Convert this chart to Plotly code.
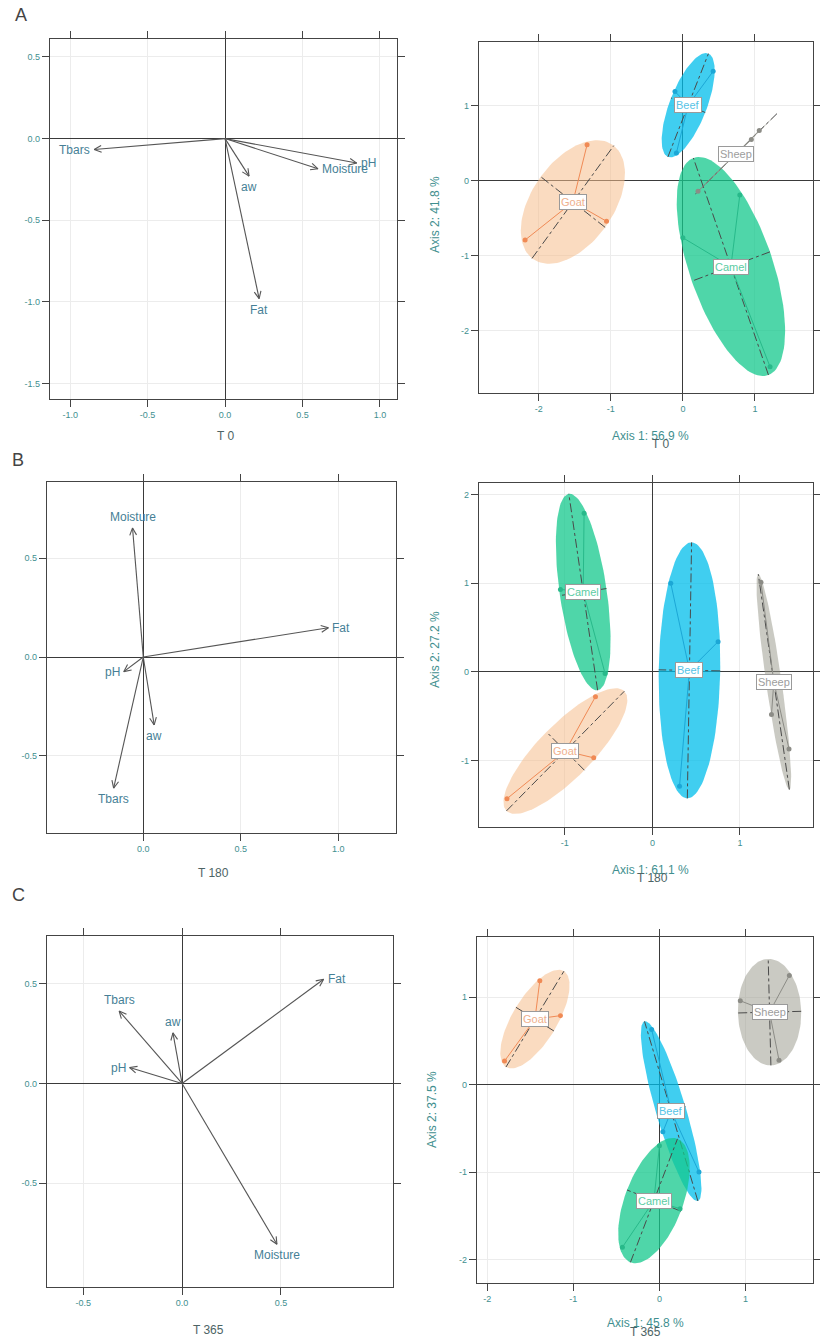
import numpy as np
import plotly.graph_objects as go

W, H = 820, 1341

# ---------------- data ----------------
variables = ["Fat", "Moisture", "pH", "aw", "Tbars"]
# variable loadings (correlation arrows) per storage time
t0_load1 = [0.22, 0.60, 0.85, 0.155, -0.845]
t0_load2 = [-0.98, -0.185, -0.15, -0.23, -0.067]
t180_load1 = [0.95, -0.055, -0.10, 0.056, -0.152]
t180_load2 = [0.148, 0.652, -0.074, -0.343, -0.662]
t365_load1 = [0.716, 0.48, -0.265, -0.046, -0.318]
t365_load2 = [0.522, -0.806, 0.080, 0.254, 0.363]

species = ["Beef", "Camel", "Goat", "Sheep"]
sample_species = ["Beef"] * 3 + ["Camel"] * 3 + ["Goat"] * 3 + ["Sheep"] * 3
# sample scores on PCA axes
t0_axis1 = [0.42, -0.11, -0.09, 0.79, 0.00, 1.21, -1.33, -1.06, -2.19, 0.21, 1.06, 0.95]
t0_axis2 = [1.46, 1.19, 0.37, -0.19, -0.76, -2.48, 0.48, -0.54, -0.79, -0.14, 0.67, 0.55]
t180_axis1 = [0.21, 0.75, 0.31, -0.78, -0.54, -1.05, -0.65, -0.67, -1.66, 1.24, 1.36, 1.56]
t180_axis2 = [1.00, 0.34, -1.29, 1.79, -0.02, 0.93, -0.28, -0.97, -1.43, 1.01, -0.48, -0.87]
t365_axis1 = [-0.09, 0.04, 0.46, -0.43, 0.00, 0.24, -1.39, -1.15, -1.80, 1.51, 0.94, 1.39]
t365_axis2 = [0.63, -0.54, -1.00, -1.86, -0.70, -1.42, 1.19, 0.79, 0.27, 1.25, 0.96, 0.28]
# explained variance (%)
t0_pct = [56.9, 41.8]
t180_pct = [61.1, 27.2]
t365_pct = [45.8, 37.5]
times = ["T 0", "T 180", "T 365"]

# ---------------- styles ----------------
fill_col = {"Beef": "rgba(0,190,235,0.75)", "Camel": "rgba(20,200,140,0.75)",
            "Goat": "rgba(245,190,140,0.55)", "Sheep": "rgba(150,150,135,0.5)"}
line_col = {"Beef": "#1ca7d6", "Camel": "#28b98a", "Goat": "#f08a55", "Sheep": "#8c8c86"}
text_col = {"Beef": "#56c3e6", "Camel": "#5ccca3", "Goat": "#efb08c", "Sheep": "#9d9d9d"}
TEAL = "#3f8f8f"
FONT = "Liberation Sans, Arial, sans-serif"

# panel boxes in pixels (x0, x1, y0, y1) and data ranges
panels = [
    dict(box=(50, 397, 39, 399), xr=[-1.13, 1.11], yr=[-1.595, 0.61], xt=[-1, -0.5, 0, 0.5, 1], yt=[-1.5, -1, -0.5, 0, 0.5], fmt="%.1f"),
    dict(box=(479, 813, 42, 393), xr=[-2.83, 1.806], yr=[-2.83, 1.85], xt=[-2, -1, 0, 1], yt=[-2, -1, 0, 1], fmt="%d"),
    dict(box=(47, 396, 482, 833), xr=[-0.494, 1.297], yr=[-0.889, 0.884], xt=[0, 0.5, 1], yt=[-0.5, 0, 0.5], fmt="%.1f"),
    dict(box=(479, 813, 483, 827), xr=[-1.98, 1.834], yr=[-1.75, 2.13], xt=[-1, 0, 1], yt=[-1, 0, 1, 2], fmt="%d"),
    dict(box=(47, 393, 936, 1287), xr=[-0.683, 1.067], yr=[-1.02, 0.739], xt=[-0.5, 0, 0.5], yt=[-0.5, 0, 0.5], fmt="%.1f"),
    dict(box=(477, 813, 937, 1283), xr=[-2.12, 1.785], yr=[-2.27, 1.69], xt=[-2, -1, 0, 1], yt=[-2, -1, 0, 1], fmt="%d"),
]

loadings = [(t0_load1, t0_load2), (t180_load1, t180_load2), (t365_load1, t365_load2)]
scores = [(t0_axis1, t0_axis2), (t180_axis1, t180_axis2), (t365_axis1, t365_axis2)]
pcts = [t0_pct, t180_pct, t365_pct]

fig = go.Figure()
layout = dict(width=W, height=H, margin=dict(l=0, r=0, t=0, b=0),
              paper_bgcolor="white", plot_bgcolor="white", showlegend=False)
annotations = []

for i, p in enumerate(panels):
    k = i + 1
    x0, x1, y0, y1 = p["box"]
    ax = dict(showline=True, linecolor="#444", linewidth=1.2, mirror="ticks",
              ticks="outside", ticklen=7, tickcolor="#444", tickwidth=1,
              showgrid=True, gridcolor="#ececec", gridwidth=1,
              zeroline=True, zerolinecolor="#3a3a3a", zerolinewidth=1.3,
              tickfont=dict(size=9, color=TEAL, family=FONT))
    xa = dict(ax, domain=[x0 / W, x1 / W], range=p["xr"], tickvals=p["xt"],
              ticktext=[p["fmt"] % v for v in p["xt"]], anchor="y%d" % k)
    ya = dict(ax, domain=[1 - y1 / H, 1 - y0 / H], range=p["yr"], tickvals=p["yt"],
              ticktext=[p["fmt"] % v for v in p["yt"]], anchor="x%d" % k)
    layout["xaxis" if k == 1 else "xaxis%d" % k] = xa
    layout["yaxis" if k == 1 else "yaxis%d" % k] = ya
    xref, yref = ("x" if k == 1 else "x%d" % k), ("y" if k == 1 else "y%d" % k)
    sx = (x1 - x0) / (p["xr"][1] - p["xr"][0])
    sy = (y1 - y0) / (p["yr"][1] - p["yr"][0])
    row = i // 2

    if i % 2 == 0:
        # ---- correlation arrows ----
        lx, ly = loadings[row]
        segx, segy = [], []
        for vx, vy in zip(lx, ly):
            segx += [0, vx, None]
            segy += [0, vy, None]
            dx, dy = vx * sx, vy * sy
            n = np.hypot(dx, dy)
            ux, uy = dx / n, dy / n
            for a in (np.radians(25), -np.radians(25)):
                rx = ux * np.cos(a) - uy * np.sin(a)
                ry = ux * np.sin(a) + uy * np.cos(a)
                segx += [vx, vx - 8 * rx / sx, None]
                segy += [vy, vy - 8 * ry / sy, None]
        fig.add_trace(go.Scatter(x=segx, y=segy, mode="lines", xaxis=xref, yaxis=yref,
                                 line=dict(color="#555", width=1.1), hoverinfo="skip"))
        for name, vx, vy in zip(variables, lx, ly):
            dx, dy = vx * sx, vy * sy
            a = dict(x=vx, y=vy, xref=xref, yref=yref, text=name, showarrow=False,
                     font=dict(size=12, color="#467f96", family=FONT))
            if abs(dx) >= abs(dy):
                a.update(xanchor="left" if dx > 0 else "right", yanchor="middle",
                         xshift=2 if dx > 0 else -2)
            else:
                a.update(xanchor="center", yanchor="bottom" if dy > 0 else "top",
                         yshift=2 if dy > 0 else -2)
            annotations.append(a)
    else:
        # ---- class ellipses ----
        s1, s2 = scores[row]
        for sp in species:
            xs = np.array([v for v, g in zip(s1, sample_species) if g == sp])
            ys = np.array([v for v, g in zip(s2, sample_species) if g == sp])
            P = np.column_stack([xs, ys])
            m = P.mean(axis=0)
            C = np.cov(P.T, bias=True)
            vals, vecs = np.linalg.eigh(C)
            vals = np.clip(vals, 1e-6, None)
            t = np.linspace(0, 2 * np.pi, 120)
            circ = np.vstack([np.cos(t), np.sin(t)])
            E = m[:, None] + 1.5 * vecs @ (np.sqrt(vals)[:, None] * circ)
            fig.add_trace(go.Scatter(x=E[0], y=E[1], mode="lines", fill="toself",
                                     fillcolor=fill_col[sp], line=dict(width=0),
                                     xaxis=xref, yaxis=yref, hoverinfo="skip"))
            axx, axy = [], []
            for j in range(2):
                d = 1.5 * np.sqrt(vals[j]) * vecs[:, j]
                axx += [m[0] - d[0], m[0] + d[0], None]
                axy += [m[1] - d[1], m[1] + d[1], None]
            fig.add_trace(go.Scatter(x=axx, y=axy, mode="lines", xaxis=xref, yaxis=yref,
                                     line=dict(color="#4a4a4a", width=1, dash="dashdot"),
                                     hoverinfo="skip"))
            stx, sty = [], []
            for a_, b_ in zip(xs, ys):
                stx += [m[0], a_, None]
                sty += [m[1], b_, None]
            fig.add_trace(go.Scatter(x=stx, y=sty, mode="lines", xaxis=xref, yaxis=yref,
                                     line=dict(color=line_col[sp], width=1), hoverinfo="skip"))
            fig.add_trace(go.Scatter(x=xs, y=ys, mode="markers", xaxis=xref, yaxis=yref,
                                     marker=dict(color=line_col[sp], size=5), hoverinfo="skip"))
            annotations.append(dict(x=m[0], y=m[1], xref=xref, yref=yref, text=sp,
                                    showarrow=False, bgcolor="white", bordercolor="#9a9a9a",
                                    borderwidth=1, borderpad=1,
                                    font=dict(size=11, color=text_col[sp], family=FONT)))

# ---- titles & panel letters ----
def ann(x, y, text, size=12, color="#555", angle=0):
    annotations.append(dict(x=x / W, y=1 - y / H, xref="paper", yref="paper", text=text,
                            showarrow=False, xanchor="center", yanchor="middle", textangle=angle,
                            font=dict(size=size, color=color, family=FONT)))

for letter, (lx_, ly_) in zip(["A", "B", "C"], [(21, 15), (18, 460), (18, 895)]):
    ann(lx_, ly_, letter, size=18, color="#444")

left_title_pos = [(225, 436), (213, 873), (208, 1330)]
right_x_pos = [(650, 436), (650, 870), (645, 1323)]
right_t_pos = [(660, 444), (652, 878), (645, 1332)]
right_y_pos = [(435, 215), (435, 650), (432, 1110)]
for r in range(3):
    ann(*left_title_pos[r], times[r], size=12, color="#4d6465")
    ann(*right_x_pos[r], "Axis 1: %.1f %%" % pcts[r][0], size=12, color=TEAL)
    ann(*right_t_pos[r], times[r], size=12, color="#4d6465")
    ann(*right_y_pos[r], "Axis 2: %.1f %%" % pcts[r][1], size=12, color=TEAL, angle=-90)

layout["annotations"] = annotations
fig.update_layout(**layout)
fig.write_html("out.html", config={"displayModeBar": False},
               post_script="document.body.style.margin='0';document.body.style.overflow='hidden';")
